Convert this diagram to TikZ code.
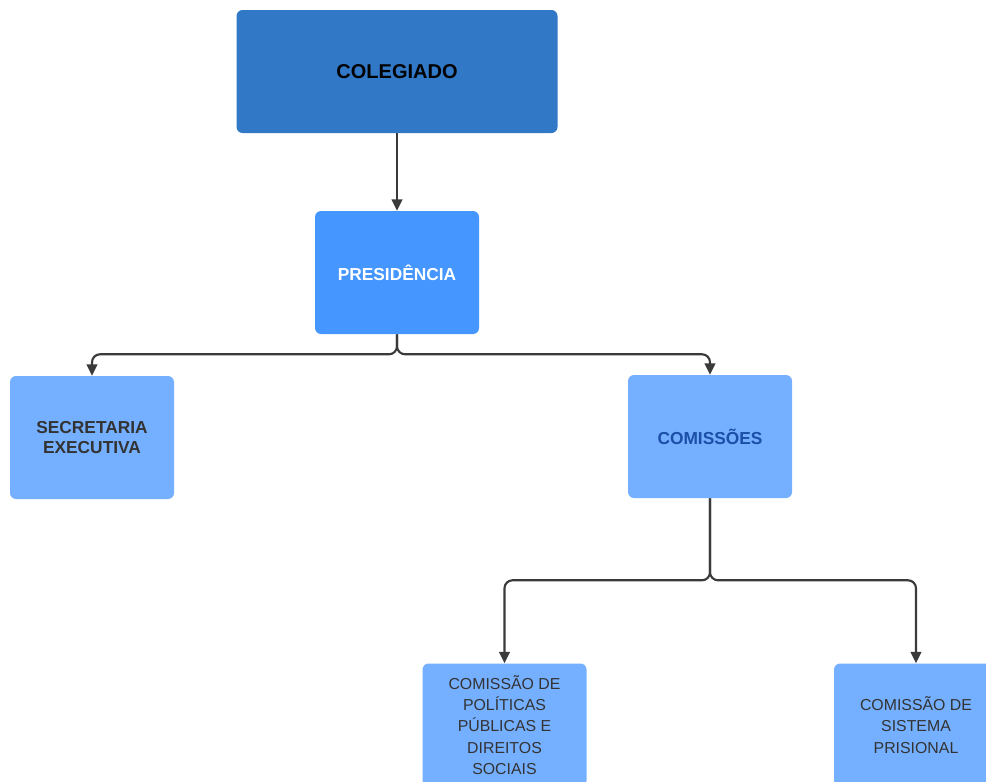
\documentclass[tikz,border=0pt]{standalone}
\usepackage{fontspec}
\setmainfont{Liberation Sans}
\usetikzlibrary{arrows.meta}

\definecolor{colblue}{RGB}{49,120,198}
\definecolor{presblue}{RGB}{69,150,255}
\definecolor{lightblue}{RGB}{117,175,255}
\definecolor{darktext}{RGB}{51,51,51}
\definecolor{comtext}{RGB}{27,79,168}
\definecolor{linegray}{RGB}{58,58,58}

\begin{document}
\begin{tikzpicture}[x=0.75pt, y=-0.75pt,
	box/.style={rectangle, rounded corners=4.5pt, inner sep=0pt, minimum width=123pt, minimum height=92.25pt, align=center, fill=lightblue, text=darktext, font=\fontsize{13}{15.5}\selectfont\bfseries},
	subbox/.style={box, font=\fontsize{11.9}{16}\selectfont},
	link/.style={draw=linegray, line width=1.6pt, rounded corners=6pt, -{Triangle[length=8.5pt,width=8pt]}}]
	
	% Frame
	\useasboundingbox (0,0) rectangle (986,782);
	\clip (0,0) rectangle (986,782);
	
	% Colegiado and presidencia
	\node[box, fill=colblue, minimum width=240.75pt, text=black, font=\fontsize{15}{18}\selectfont\bfseries] (col) at (397,71.5) {COLEGIADO};
	\node[box, fill=presblue, text=white] (pres) at (397,272.5) {PRESIDÊNCIA};
	
	% Second level
	\node[box] (sec) at (92,437.5) {SECRETARIA\\EXECUTIVA};
	\node[box, text=comtext] (com) at (710,436.5) {COMISSÕES};
	
	% Commissions
	\node[subbox] (cpp) at (504.5,725) {COMISSÃO DE\\POLÍTICAS\\PÚBLICAS E\\DIREITOS\\SOCIAIS};
	\node[subbox] (csp) at (916,725) {COMISSÃO DE\\SISTEMA\\PRISIONAL};
	
	% Connectors
	\draw[link] (col.south) -- (pres.north);
	\draw[link] (pres.south) -- ++(0,20) -| (sec.north);
	\draw[link] (pres.south) -- ++(0,20) -| (com.north);
	\draw[link] (com.south) -- ++(0,82) -| (cpp.north);
	\draw[link] (com.south) -- ++(0,82) -| (csp.north);
	
\end{tikzpicture}
\end{document}
